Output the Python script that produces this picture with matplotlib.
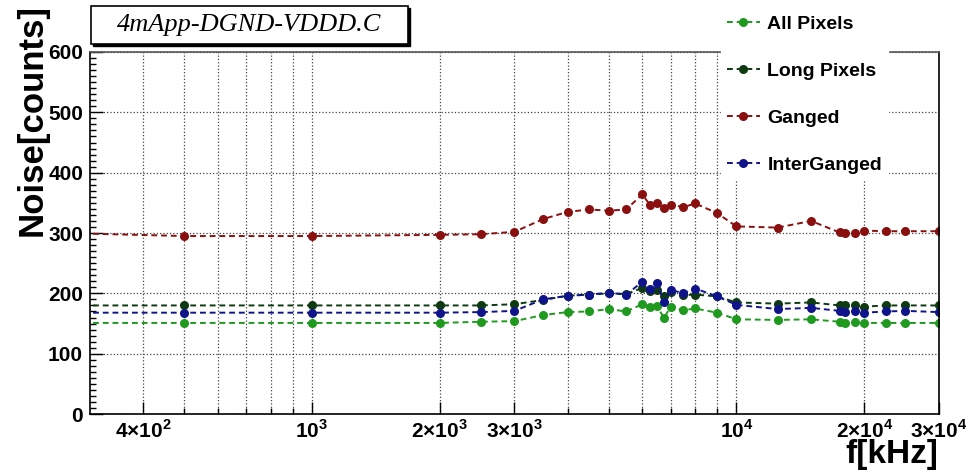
"""Noise vs frequency, 4mApp-DGND-VDDD"""
import matplotlib
matplotlib.use("Agg")
import matplotlib.pyplot as plt
from matplotlib.patches import Rectangle
from matplotlib.ticker import FixedLocator, FixedFormatter, MultipleLocator

plt.rcParams['font.family'] = ['Liberation Sans', 'DejaVu Sans']
plt.rcParams['mathtext.fontset'] = 'custom'
plt.rcParams['mathtext.rm'] = 'Liberation Sans:bold'
plt.rcParams['mathtext.bf'] = 'Liberation Sans:bold'

# frequency in kHz
freq = [200, 500, 1000, 2000, 2500, 3000, 3500, 4000, 4500, 5000, 5500,
        6000, 6250, 6500, 6750, 7000, 7500, 8000, 9000, 10000, 12500,
        15000, 17500, 18000, 19000, 20000, 22500, 25000, 30000]

all_pixels = [151, 151, 151, 151, 153, 154, 164, 169, 170, 174, 170,
              182, 178, 179, 159, 178, 172, 175, 168, 157, 156,
              157, 153, 151, 153, 151, 151, 151, 151]
long_pixels = [180, 180, 180, 180, 180, 182, 189, 196, 198, 200, 199,
               209, 204, 206, 195, 203, 197, 198, 195, 185, 183,
               185, 180, 180, 180, 178, 180, 180, 180]
ganged = [302, 295, 295, 297, 298, 302, 323, 335, 339, 337, 339,
          364, 347, 349, 341, 347, 343, 349, 333, 311, 309,
          320, 301, 300, 300, 304, 303, 303, 303]
inter_ganged = [168, 168, 168, 168, 169, 171, 190, 196, 198, 201, 198,
                219, 207, 217, 186, 206, 200, 208, 195, 181, 174,
                176, 171, 169, 171, 168, 170, 171, 169]

series = [
    ("All Pixels", all_pixels, "#1f9a1f"),
    ("Long Pixels", long_pixels, "#0e3a12"),
    ("Ganged", ganged, "#8a1010"),
    ("InterGanged", inter_ganged, "#10148a"),
]

major_ticks = [400, 1000, 2000, 3000, 10000, 20000, 30000]
major_labels = [r"$4{\times}10^{2}$", r"$10^{3}$", r"$2{\times}10^{3}$",
                r"$3{\times}10^{3}$", r"$10^{4}$", r"$2{\times}10^{4}$",
                r"$3{\times}10^{4}$"]
minor_ticks = [500, 600, 700, 800, 900, 4000, 5000, 6000, 7000, 8000, 9000]

fig = plt.figure(figsize=(9.66, 4.70), dpi=100)
ax = fig.add_axes([0.0932, 0.119, 0.8788, 0.7704])

handles = []
for name, vals, col in series:
    h, = ax.plot(freq, vals, linestyle=(0, (3, 2)), lw=1.4, color=col,
                 marker='o', markersize=6.5, markeredgewidth=0, label=name)
    handles.append(h)

ax.set_xscale('log')
ax.set_xlim(300, 30000)
ax.set_ylim(0, 600)

ax.xaxis.set_major_locator(FixedLocator(major_ticks))
ax.xaxis.set_major_formatter(FixedFormatter(major_labels))
ax.xaxis.set_minor_locator(FixedLocator(minor_ticks))
ax.xaxis.set_minor_formatter(FixedFormatter([""] * len(minor_ticks)))
ax.yaxis.set_major_locator(MultipleLocator(100))
ax.yaxis.set_minor_locator(MultipleLocator(10))

ax.tick_params(which='both', direction='in', top=False, right=False)
ax.tick_params(which='major', length=9, width=1.0, labelsize=15)
ax.tick_params(axis='x', which='major', pad=4)
ax.tick_params(axis='y', which='major', pad=5)
ax.tick_params(which='minor', length=4, width=1.0)
for lab in ax.get_yticklabels():
    lab.set_fontweight('bold')

ax.grid(which='both', axis='x', linestyle=':', color='#444444', lw=0.9)
ax.grid(which='major', axis='y', linestyle=':', color='#444444', lw=0.9)

for sp in ax.spines.values():
    sp.set_linewidth(1.2)
ax.spines['top'].set_color('#555555')

# axis titles placed like ROOT does (at the axis ends)
fig.text(0.033, 0.992, "Noise[counts]", fontsize=25, fontweight='bold',
         rotation=90, ha='center', va='top')
fig.text(0.971, 0.033, "f[kHz]", fontsize=24, fontweight='bold',
         ha='right', va='center')

leg = fig.legend(handles=handles, loc='upper left',
                 bbox_to_anchor=(0.736, 1.0), frameon=True, fancybox=False,
                 edgecolor='white', facecolor='white', framealpha=1.0,
                 prop={'weight': 'bold', 'size': 14}, labelspacing=1.5,
                 handlelength=1.7, handletextpad=0.4, borderpad=0.3)
leg.set_zorder(10)

# title box with ROOT-like shadow
fig.patches.append(Rectangle((0.0962, 0.902), 0.328, 0.081, transform=fig.transFigure,
                             facecolor='black', edgecolor='black', zorder=5))
fig.patches.append(Rectangle((0.0942, 0.906), 0.328, 0.081, transform=fig.transFigure,
                             facecolor='white', edgecolor='black', lw=1.2, zorder=6))
fig.text(0.2583, 0.9465, "4mApp-DGND-VDDD.C", fontsize=19, style='italic',
         family=['Liberation Serif', 'DejaVu Serif'], ha='center', va='center',
         zorder=7)

fig.savefig("out.png", dpi=100)
